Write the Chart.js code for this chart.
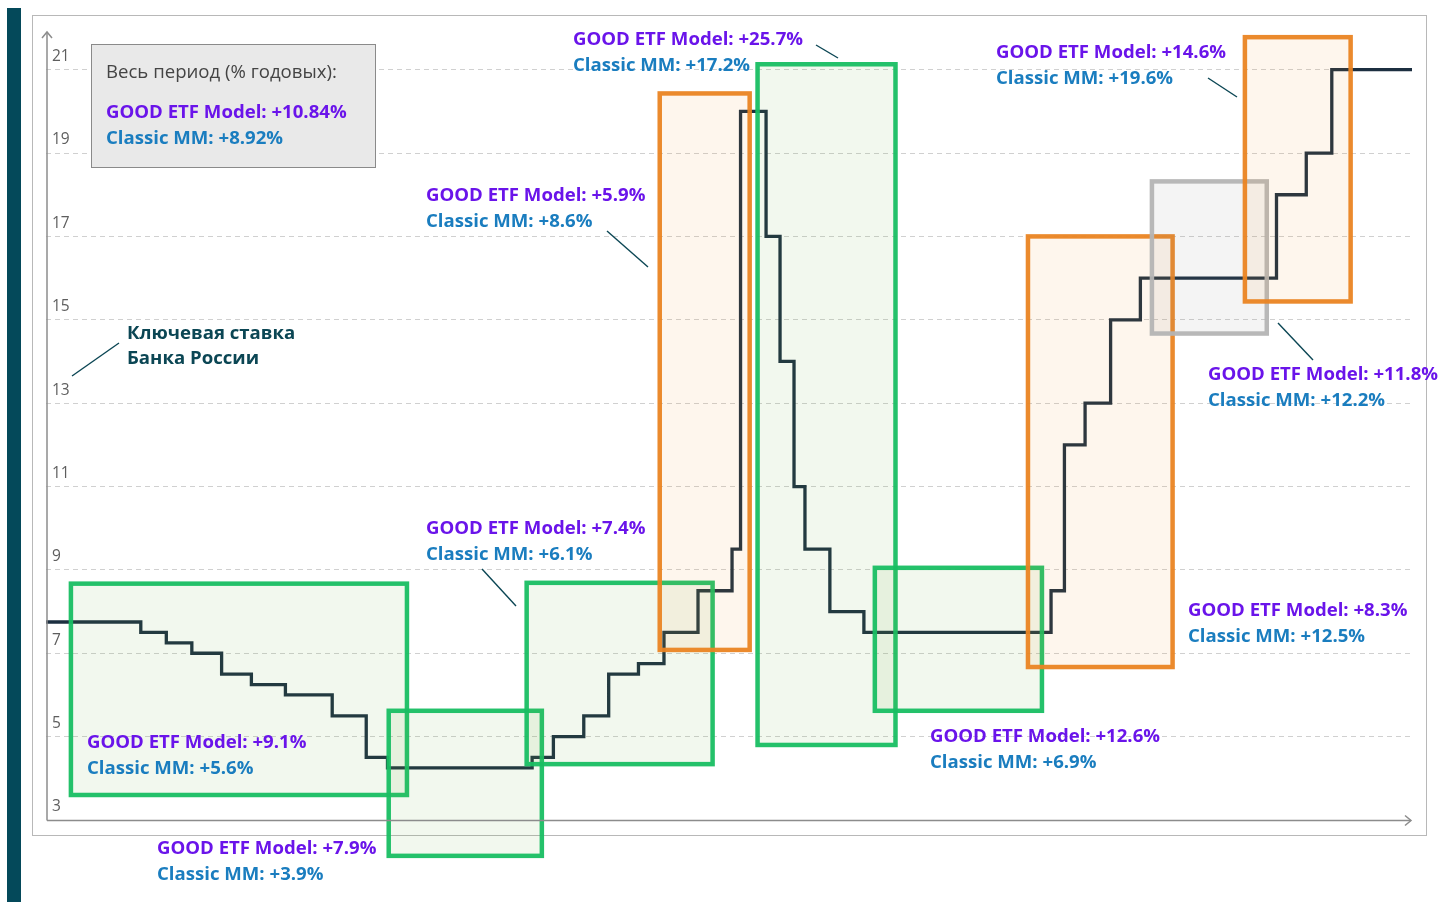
<!DOCTYPE html>
<html><head><meta charset="utf-8">
<script src="https://cdn.jsdelivr.net/npm/chart.js@4.4.1/dist/chart.umd.min.js"></script>
<style>html,body{margin:0;padding:0;background:#fff;}#wrap{width:1441px;height:902px;position:relative;}</style>
</head><body><div id="wrap"><canvas id="c" width="1441" height="902"></canvas></div>
<script>
// Key rate of the Bank of Russia (date of change, new rate, %)
const rateDates = ['2019-01-12','2019-06-17','2019-07-29','2019-09-09','2019-10-28','2019-12-16','2020-02-10','2020-04-27','2020-06-22','2020-07-27','2021-03-22','2021-04-26','2021-06-15','2021-07-26','2021-09-13','2021-10-25','2021-12-20','2022-02-14','2022-02-28','2022-04-11','2022-05-04','2022-05-27','2022-06-14','2022-07-25','2022-09-19','2023-07-24','2023-08-15','2023-09-18','2023-10-30','2023-12-18','2024-07-29','2024-09-16','2024-10-28','2025-03-09'];
const keyRate = [7.75,7.5,7.25,7.0,6.5,6.25,6.0,5.5,4.5,4.25,4.5,5.0,5.5,6.5,6.75,7.5,8.5,9.5,20,17,14,11,9.5,8.0,7.5,8.5,12,13,15,16,18,19,21,21];
const yTicks = [3,5,7,9,11,13,15,17,19,21];

// Highlighted periods
const boxStart = ['2019-02-22','2020-07-29','2021-03-13','2021-10-18','2022-03-28','2022-10-07','2023-06-16','2024-01-06','2024-06-07'];
const boxEnd   = ['2020-08-28','2021-04-07','2022-01-13','2022-03-15','2022-11-10','2023-07-09','2024-02-09','2024-07-13','2024-11-28'];
const boxLow   = [3.6, 2.14, 4.34, 7.08, 4.8, 5.62, 6.67, 14.67, 15.44];
const boxHigh  = [8.67, 5.62, 8.69, 20.43, 21.13, 9.05, 17.0, 18.32, 21.78];
const boxKind  = ['green','green','green','orange','green','green','orange','gray','orange'];
const goodModel = ['+9.1%','+7.9%','+7.4%','+5.9%','+25.7%','+12.6%','+8.3%','+11.8%','+14.6%'];
const classicMM = ['+5.6%','+3.9%','+6.1%','+8.6%','+17.2%','+6.9%','+12.5%','+12.2%','+19.6%'];
const totalGood = '+10.84%';
const totalClassic = '+8.92%';

// layout of labels (pixels) – not data
const labelPos = [[87,742],[157,848],[426,528],[426,195],[573,39],[930,736],[1188,610],[1208,374],[996,52]];
const leaders = [null,null,[482,569,516,606],[607,231,648,267],[816,45,838,58],null,null,[1278,323,1313,360],[1208,78,1237,97]];

const DAY0 = Date.UTC(2019,0,12);
const day = s => (Date.parse(s + 'T00:00:00Z') - DAY0) / 864e5;

const boxStyle = {
  green:  {stroke:'rgba(24,190,98,0.95)',  fill:'rgba(110,180,70,0.09)'},
  orange: {stroke:'rgba(234,132,34,0.95)', fill:'rgba(240,150,50,0.085)'},
  gray:   {stroke:'rgba(180,180,180,0.95)',fill:'rgba(128,128,128,0.085)'}
};
const PURPLE = '#6a14ea', BLUE = '#1a7dbf', TEAL = '#0b4654';
const BOLD = '700 18.6px "Open Sans"', REG = '400 18.6px "Open Sans"';

const decor = {
  id:'decor',
  beforeDraw(chart){
    const c = chart.ctx;
    c.save();
    c.fillStyle = '#fff'; c.fillRect(0,0,chart.width,chart.height);
    c.strokeStyle = '#b8b8b8'; c.lineWidth = 1;
    c.strokeRect(32.5,15.5,1394,820);
    c.fillStyle = '#04495a'; c.fillRect(7,8,14,894);
    c.restore();
  },
  afterDatasetsDraw(chart){
    const c = chart.ctx, xs = chart.scales.x, ys = chart.scales.y;
    c.save();
    // boxes
    for (let i=0;i<boxStart.length;i++){
      const x1 = xs.getPixelForValue(day(boxStart[i])), x2 = xs.getPixelForValue(day(boxEnd[i]));
      const y1 = ys.getPixelForValue(boxHigh[i]), y2 = ys.getPixelForValue(boxLow[i]);
      const st = boxStyle[boxKind[i]];
      c.fillStyle = st.fill; c.fillRect(x1,y1,x2-x1,y2-y1);
      c.strokeStyle = st.stroke; c.lineWidth = 4.5;
      c.strokeRect(x1,y1,x2-x1,y2-y1);
    }
    // axes with arrows
    const L = chart.chartArea.left + 1, B = ys.getPixelForValue(3) + 0.5;
    c.strokeStyle = '#8c8c8c'; c.lineWidth = 1.5;
    c.beginPath(); c.moveTo(L, B); c.lineTo(L, 32); c.stroke();
    c.beginPath(); c.moveTo(L-5, 38); c.lineTo(L, 32); c.lineTo(L+5, 38); c.stroke();
    c.beginPath(); c.moveTo(L, B); c.lineTo(1411, B); c.stroke();
    c.beginPath(); c.moveTo(1405, B-5); c.lineTo(1411, B); c.lineTo(1405, B+5); c.stroke();
    // labels
    c.textBaseline = 'middle'; c.textAlign = 'left';
    for (let i=0;i<labelPos.length;i++){
      const [lx,ly] = labelPos[i];
      c.font = BOLD;
      c.fillStyle = PURPLE; c.fillText('GOOD ETF Model: ' + goodModel[i], lx, ly + 1);
      c.fillStyle = BLUE; c.fillText('Classic MM: ' + classicMM[i], lx, ly + 26.5);
      const ld = leaders[i];
      if (ld){ c.strokeStyle = TEAL; c.lineWidth = 1.4; c.beginPath(); c.moveTo(ld[0],ld[1]); c.lineTo(ld[2],ld[3]); c.stroke(); }
    }
    // key rate label
    c.font = BOLD; c.fillStyle = TEAL;
    c.fillText('Ключевая ставка', 127, 334);
    c.fillText('Банка России', 127, 359);
    c.strokeStyle = TEAL; c.lineWidth = 1.4;
    c.beginPath(); c.moveTo(72,376); c.lineTo(119,343); c.stroke();
    // summary box
    c.fillStyle = '#e9e9e9'; c.fillRect(91,44,285,124);
    c.strokeStyle = '#8a8a8a'; c.lineWidth = 1; c.strokeRect(91.5,44.5,284,123);
    c.font = REG; c.fillStyle = '#444';
    c.fillText('Весь период (% годовых):', 106, 73);
    c.font = BOLD; c.fillStyle = PURPLE; c.fillText('GOOD ETF Model: ' + totalGood, 106, 113);
    c.fillStyle = BLUE; c.fillText('Classic MM: ' + totalClassic, 106, 139);
    c.restore();
  }
};

new Chart(document.getElementById('c'), {
  type:'line',
  data:{ datasets:[{
    data: rateDates.map((d,i)=>({x:day(d), y:keyRate[i]})),
    stepped:true, borderColor:'#1c2f40', borderWidth:3.3, pointRadius:0, fill:false
  }]},
  options:{
    responsive:false, animation:false, devicePixelRatio:1,
    layout:{padding:{left:46, right:29, top:28, bottom:82}},
    plugins:{legend:{display:false}, tooltip:{enabled:false}},
    scales:{
      x:{type:'linear', display:false, min:day(rateDates[0]), max:day(rateDates[rateDates.length-1])},
      y:{min:3, max:22,
         afterFit:s=>{s.width=0;},
         afterBuildTicks:s=>{s.ticks = yTicks.map(v=>({value:v}));},
         grid:{drawTicks:false, color:ctx=> (ctx.tick && ctx.tick.value===3) ? 'rgba(0,0,0,0)' : '#d0d0d0', lineWidth:1},
         border:{display:false, dash:[5,4]},
         ticks:{mirror:true, padding:6, labelOffset:-13, color:'#5e5e5e', font:{family:'Open Sans', size:15.5}}
      }
    }
  },
  plugins:[decor]
});
</script></body></html>
